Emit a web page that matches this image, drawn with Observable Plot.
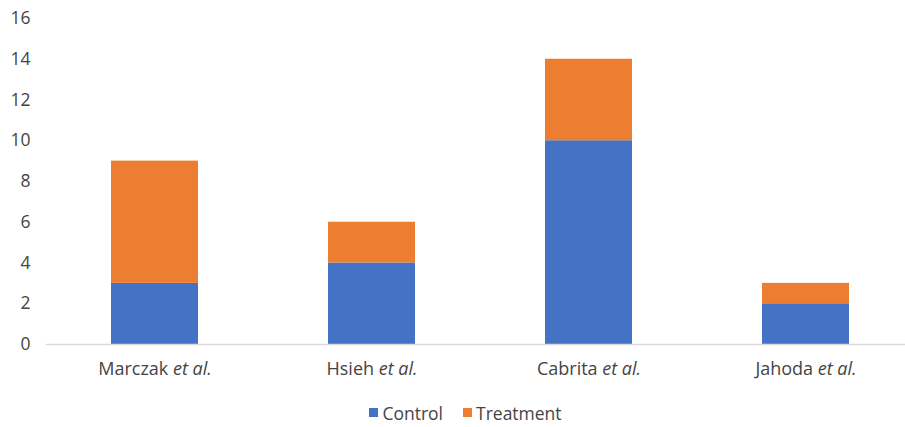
<!DOCTYPE html>
<html>
<head>
<meta charset="utf-8">
<script src="https://cdn.jsdelivr.net/npm/d3@7"></script>
<script src="https://cdn.jsdelivr.net/npm/@observablehq/plot@0.6"></script>
<style>
  body { margin: 0; background: #fff; font-family: "Open Sans", "Liberation Sans", sans-serif; overflow: hidden; }
  #legend { display: flex; justify-content: center; align-items: center; height: 37px; font-size: 17.5px; color: #444; padding-left: 26px; box-sizing: border-box; }
  #legend .item { display: flex; align-items: center; margin: 0 10px; position: relative; top: 4px; }
  #legend .sw { width: 9px; height: 9px; margin-right: 4px; }
</style>
</head>
<body>
<div id="chart"></div>
<div id="legend"></div>
<script>
const studies = ["Marczak et al.", "Hsieh et al.", "Cabrita et al.", "Jahoda et al."];
const control = [3, 4, 10, 2];
const treatment = [6, 2, 4, 1];
const seriesNames = ["Control", "Treatment"];
const colors = ["#4472C4", "#ED7D31"];
const yTicks = [0, 2, 4, 6, 8, 10, 12, 14, 16];

const rows = [];
studies.forEach((s, i) => {
  rows.push({study: s, series: "Control", value: control[i]});
  rows.push({study: s, series: "Treatment", value: treatment[i]});
});

const font = '"Open Sans", "Liberation Sans", sans-serif';
const plot = Plot.plot({
  width: 905,
  height: 390,
  marginTop: 18,
  marginBottom: 46,
  marginLeft: 46,
  marginRight: -9,
  style: {fontSize: "17px", color: "#444", fontFamily: font, overflow: "hidden"},
  x: {domain: studies, paddingInner: 0.6, paddingOuter: 0.3, label: null},
  y: {domain: [0, 16], ticks: yTicks, label: null},
  color: {domain: seriesNames, range: colors},
  marks: [
    Plot.barY(rows, {x: "study", y: "value", fill: "series", order: seriesNames}),
    Plot.ruleY([0], {stroke: "#d9d9d9", strokeWidth: 1.5}),
    Plot.axisY({ticks: yTicks, tickSize: 0, tickPadding: 16, label: null, fill: "#444", fontSize: 17.5}),
    Plot.axisX({tickSize: 0, tickPadding: 18, label: null, fill: "#444", fontSize: 18})
  ]
});
document.getElementById("chart").appendChild(plot);

// italicize "et al."
plot.querySelectorAll('g[aria-label="x-axis tick label"] text').forEach(t => {
  const txt = t.textContent;
  const idx = txt.indexOf(" et al.");
  if (idx >= 0) {
    const name = txt.slice(0, idx);
    t.textContent = "";
    const a = document.createElementNS("http://www.w3.org/2000/svg", "tspan");
    a.textContent = name + " ";
    const b = document.createElementNS("http://www.w3.org/2000/svg", "tspan");
    b.textContent = "et al.";
    b.setAttribute("font-style", "italic");
    t.appendChild(a); t.appendChild(b);
  }
});

const legend = document.getElementById("legend");
seriesNames.forEach((n, i) => {
  const item = document.createElement("div");
  item.className = "item";
  const sw = document.createElement("div");
  sw.className = "sw";
  sw.style.background = colors[i];
  const lab = document.createElement("span");
  lab.textContent = n;
  item.appendChild(sw); item.appendChild(lab);
  legend.appendChild(item);
});
</script>
</body>
</html>
